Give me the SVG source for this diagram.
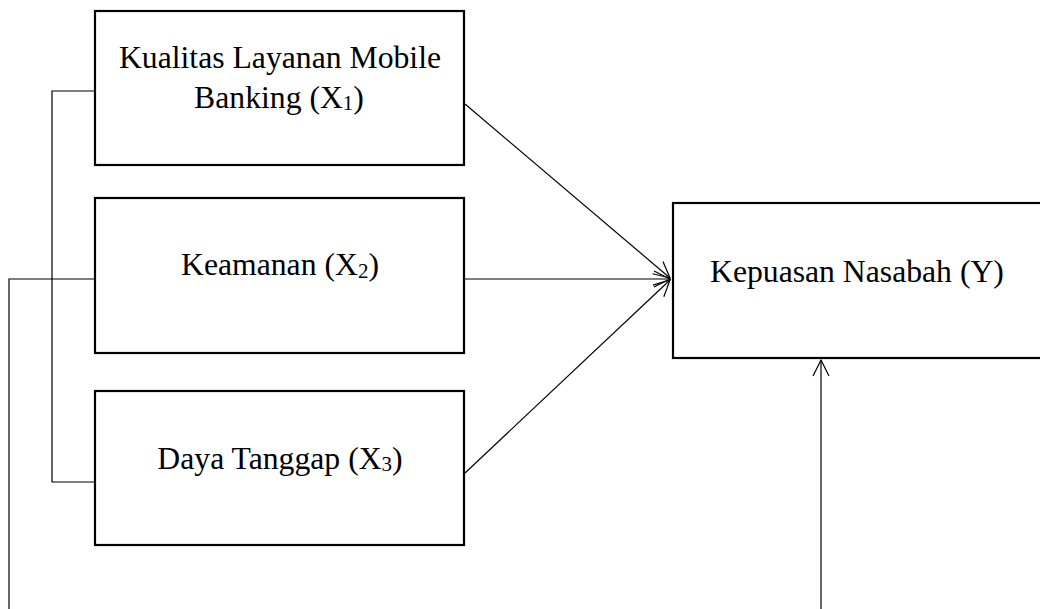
<svg xmlns="http://www.w3.org/2000/svg" width="1040" height="609" viewBox="0 0 1040 609">
<style>
.box{fill:#fff;stroke:#000;stroke-width:2.2}
.lbl{font-family:"Liberation Serif","Times New Roman",serif;font-size:31.7px;fill:#000}
.sub{font-size:21px}
.ln{fill:none;stroke:#000;stroke-width:1.2}
</style>
<defs>
<marker id="ah" markerUnits="userSpaceOnUse" markerWidth="20" markerHeight="20" refX="17" refY="9" orient="auto" viewBox="0 0 20 18">
<path d="M1,1 L17,9 L1,17" fill="none" stroke="#000" stroke-width="1.2"/>
</marker>
</defs>
<rect width="1040" height="609" fill="#fff"/>
<g id="connectors">
<polyline class="ln" points="95,91 52,91 52,482 95,482"/>
<polyline class="ln" points="95,279 9,279 9,609"/>
<line class="ln" x1="465" y1="104" x2="670" y2="278" marker-end="url(#ah)"/>
<line class="ln" x1="465" y1="279" x2="670" y2="279" marker-end="url(#ah)"/>
<line class="ln" x1="465" y1="473" x2="670" y2="280" marker-end="url(#ah)"/>
<line class="ln" x1="821" y1="609" x2="821" y2="360" marker-end="url(#ah)"/>
</g>
<g id="x1">
<rect class="box" x="95" y="11" width="369" height="154"/>
<text class="lbl" x="280" y="68" text-anchor="middle">Kualitas Layanan Mobile</text>
<text class="lbl" x="279" y="108" text-anchor="middle">Banking (X<tspan class="sub" dy="2">1</tspan><tspan dy="-2">)</tspan></text>
</g>
<g id="x2">
<rect class="box" x="95" y="198" width="369" height="155"/>
<text class="lbl" x="280" y="275" text-anchor="middle">Keamanan (X<tspan class="sub" dy="3">2</tspan><tspan dy="-3">)</tspan></text>
</g>
<g id="x3">
<rect class="box" x="95" y="391" width="369" height="154"/>
<text class="lbl" x="280" y="469" text-anchor="middle">Daya Tanggap (X<tspan class="sub" dy="2">3</tspan><tspan dy="-2">)</tspan></text>
</g>
<g id="y">
<rect class="box" x="673" y="203" width="380" height="155"/>
<text class="lbl" x="710" y="282">Kepuasan Nasabah (Y)</text>
</g>
</svg>
